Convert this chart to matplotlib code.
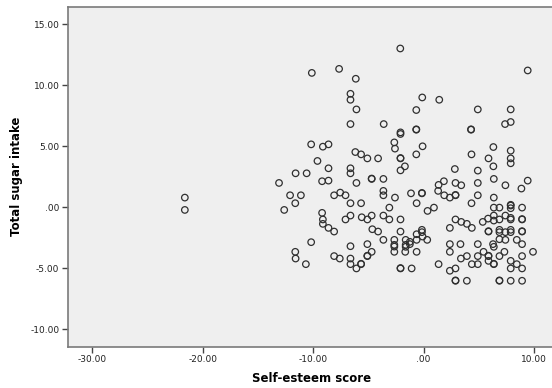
import matplotlib
matplotlib.use("Agg")
from matplotlib import pyplot as plt
from matplotlib.ticker import FuncFormatter

# self-esteem score (x) and total sugar intake (y)
esteem = [-2.12, -10.13, -7.66, -6.15, 9.42, -6.63, -6.63, -6.09, -0.13, 1.41,
          -0.67, 4.9, 7.88, 7.88, 7.37, -6.63, -3.62, -2.1, -2.1, -0.67,
          -0.67, 4.29, 4.29, -10.19, -9.13, -8.62, -2.66, -2.6, -0.1, 6.31,
          7.88, -6.19, -5.67, -5.1, -4.13, -2.1, -2.1, -0.67, 4.33, 5.87,
          7.88, 7.88, -9.62, -8.62, -6.63, -6.63, -1.7, -2.1, 2.82, 4.9,
          6.31, -11.6, -10.6, -13.1, -9.2, -8.62, -6.09, -4.71, -4.71, -3.65,
          1.83, 1.35, 2.88, 3.4, 4.9, 6.35, 7.4, 9.42, 8.85, 1.31,
          -12.1, -11.12, -8.11, -7.56, -7.08, -3.65, -3.65, -2.6, -1.15, -0.16,
          -0.16, 1.86, 2.37, 2.88, 2.88, 4.9, 6.35, -21.63, -21.63, -11.63,
          -12.63, -6.63, -5.67, -0.64, 4.33, 7.88, 7.88, -3.11, 0.93, 0.35,
          6.35, 6.86, 8.91, 7.88, -9.2, -9.13, -9.13, -8.62, -8.11, -7.08,
          -6.63, -5.61, -5.1, -4.71, -3.65, -3.11, -2.1, -4.65, -4.13, -2.1,
          -0.16, -0.16, -0.64, -0.1, 0.32, 2.37, 2.88, 3.4, 3.91, 4.36,
          5.35, 5.83, 6.35, 6.35, 6.86, 7.4, 7.88, 7.88, 8.91, 8.91,
          5.87, 5.87, 6.86, 6.86, 7.4, 7.88, 7.88, 8.91, 8.91, 6.86,
          7.4, 8.43, -10.19, -6.63, -5.1, -3.65, -2.66, -2.66, -2.66, -1.63,
          -1.63, -1.25, -1.25, -0.64, -1.63, -2.66, -1.67, -0.64, -4.71, 2.37,
          2.37, 3.33, 4.9, 6.28, 6.35, 5.42, 7.31, 8.91, 9.9, -11.63,
          -11.6, -8.11, -7.6, -6.63, -5.1, -5.1, 3.37, 3.91, 4.9, 5.87,
          5.87, 6.86, 5.87, 7.88, 8.91, -10.67, -6.63, -5.67, -5.67, 1.35,
          4.36, 4.9, 6.35, 6.35, 8.43, -6.09, -2.1, -2.1, -1.09, 2.88,
          2.37, 7.88, 8.91, 2.88, 2.88, 3.91, 6.86, 6.86, 7.88, 8.91]
sugar = [13.0, 11.0, 11.33, 10.52, 11.2, 9.29, 8.8, 8.01, 8.99, 8.8,
         7.96, 8.01, 8.01, 6.98, 6.81, 6.81, 6.81, 6.13, 6.0, 6.35,
         6.38, 6.35, 6.38, 5.15, 4.96, 5.15, 5.31, 4.8, 4.99, 4.93,
         4.63, 4.52, 4.33, 4.0, 4.0, 4.0, 4.03, 4.33, 4.33, 4.0,
         4.0, 3.6, 3.79, 3.19, 3.19, 2.78, 3.35, 3.02, 3.13, 3.0,
         3.35, 2.78, 2.78, 1.99, 2.13, 2.18, 1.99, 2.32, 2.35, 2.32,
         2.13, 1.83, 1.99, 1.8, 1.99, 2.32, 1.8, 2.18, 1.53, 1.34,
         0.98, 0.98, 0.98, 1.2, 0.98, 1.34, 0.98, 0.79, 1.14, 1.14,
         1.17, 0.98, 0.79, 0.98, 1.01, 0.98, 0.79, 0.79, -0.22, 0.33,
         -0.22, 0.33, 0.33, 0.33, 0.33, 0.14, 0.2, -0.03, -0.03, -0.3,
         -0.03, -0.03, -0.03, -0.08, -0.46, -1.0, -1.36, -1.69, -1.99, -1.0,
         -0.68, -0.82, -1.0, -0.68, -0.68, -1.0, -1.0, -1.8, -1.99, -1.99,
         -1.85, -2.04, -2.21, -2.4, -2.67, -1.69, -1.0, -1.2, -1.36, -1.69,
         -1.2, -0.93, -0.68, -1.09, -1.0, -0.68, -0.87, -1.0, -1.0, -0.97,
         -1.99, -1.96, -1.85, -2.04, -2.04, -1.85, -2.04, -1.99, -1.96, -2.62,
         -2.67, -2.67, -2.86, -3.19, -3.02, -2.67, -2.67, -3.08, -3.22, -2.67,
         -3.08, -2.83, -3.02, -2.67, -3.24, -3.65, -3.65, -3.65, -3.65, -3.02,
         -3.65, -3.02, -3.02, -3.02, -3.24, -3.65, -3.65, -3.02, -3.65, -3.65,
         -4.2, -4.0, -4.2, -4.2, -4.0, -3.97, -4.2, -4.0, -4.0, -4.0,
         -3.97, -4.0, -4.39, -4.39, -4.0, -4.66, -4.66, -4.66, -4.63, -4.66,
         -4.66, -4.66, -4.66, -4.63, -4.66, -5.01, -5.01, -4.98, -5.01, -5.01,
         -5.2, -5.01, -5.01, -6.02, -5.99, -6.02, -6.02, -5.99, -6.02, -6.02]

xTicks = [-30, -20, -10, 0, 10]
yTicks = [-10, -5, 0, 5, 10, 15]


# SPSS style number labels: two decimals, no leading zero
def SpssLabel(value, pos):
    txt = "%.2f" % value
    if txt.startswith("0."):
        txt = txt[1:]
    if txt == "-0.00":
        txt = ".00"
    return txt


fig = plt.figure(figsize=(5.52, 3.88), dpi=100)
ax = fig.add_axes([0.1226, 0.1064, 0.885, 0.8763])
ax.set_facecolor("#efefef")

ax.scatter(esteem, sugar, s=22, facecolors="none", edgecolors="#303030", linewidths=0.9)

ax.set_xlim(-32.24, 12.0)
ax.set_ylim(-11.42, 16.42)
ax.set_xticks(xTicks)
ax.set_yticks(yTicks)
ax.xaxis.set_major_formatter(FuncFormatter(SpssLabel))
ax.yaxis.set_major_formatter(FuncFormatter(SpssLabel))
ax.tick_params(direction="out", length=4, width=1, color="#444444", labelsize=6.5, labelcolor="#222222", pad=2)

for side in ["left", "bottom", "top"]:
    ax.spines[side].set_color("#7a7a7a")
    ax.spines[side].set_linewidth(1.2)
ax.spines["right"].set_visible(False)   # frame runs off the image edge

ax.set_xlabel("Self-esteem score", fontsize=8.5, fontweight="bold", labelpad=6)
ax.set_ylabel("Total sugar intake", fontsize=8.5, fontweight="bold", labelpad=5)

fig.savefig("out.png", dpi=100)
